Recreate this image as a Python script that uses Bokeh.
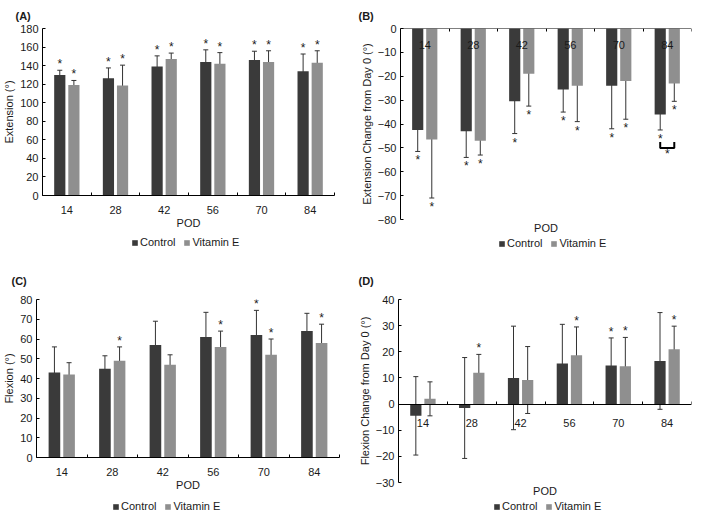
from bokeh.plotting import figure
from bokeh.models import (ColumnDataSource, Whisker, TeeHead, Range1d, FixedTicker,
                          Legend, LegendItem, Title)
from bokeh.layouts import column, row
from bokeh.embed import file_html
from bokeh.resources import INLINE
from bokeh.core.properties import value

# ---------------- data ----------------
pod = ["14", "28", "42", "56", "70", "84"]
series_names = ["Control", "Vitamin E"]

# (A) Extension
ext_ctrl = [130, 126.5, 139, 144, 146, 134]
ext_ctrl_err = [5, 11, 11.5, 13, 9.5, 18.5]
ext_vite = [119, 118.5, 147, 142, 144, 143]
ext_vite_err = [5, 22, 6.5, 12, 12, 13]
ext_sig_ctrl = [1, 1, 1, 1, 1, 1]
ext_sig_vite = [1, 1, 1, 1, 1, 1]

# (B) Extension change from day 0
extc_ctrl = [-42.5, -43, -30.5, -25.5, -24, -36]
extc_ctrl_err = [9, 11, 13.5, 9.5, 18, 6.5]
extc_vite = [-46.5, -47, -19, -24, -22, -23]
extc_vite_err = [24.5, 6, 13.5, 15, 16, 7.5]
extc_sig_ctrl = [1, 1, 1, 1, 1, 1]
extc_sig_vite = [1, 1, 1, 1, 1, 1]
bracket_index = 5
bracket_y = [-47.5, -50]

# (C) Flexion
flx_ctrl = [43, 45, 57, 61, 62, 64]
flx_ctrl_err = [13, 6.5, 12, 12.5, 12.5, 9]
flx_vite = [42, 49, 47, 56, 52, 58]
flx_vite_err = [6, 7, 5, 8, 8, 9.5]
flx_sig_ctrl = [0, 0, 0, 0, 1, 0]
flx_sig_vite = [0, 1, 0, 1, 1, 1]

# (D) Flexion change from day 0
flxc_ctrl = [-4.5, -1.5, 10, 15.5, 14.8, 16.5]
flxc_ctrl_err = [15, 19.3, 19.8, 15, 10.5, 18.5]
flxc_vite = [2, 12, 9.2, 18.7, 14.5, 21]
flxc_vite_err = [6.5, 7, 12.8, 10.8, 11, 8.8]
flxc_sig_ctrl = [0, 0, 0, 0, 1, 0]
flxc_sig_vite = [0, 1, 0, 1, 1, 1]

# ---------------- style ----------------
FONT = "Liberation Sans"
C_CTRL = "#3a3a3a"
C_VITE = "#8f8f8f"
C_ERR = "#333333"
TXT = "#1a1a1a"
BAR_W = 0.23
OFF = 0.145
NAN = float("nan")


def legend_fig(width, height, loc):
    lf = figure(width=width, height=height, output_backend="svg", toolbar_location=None,
                x_range=Range1d(0, 1), y_range=Range1d(0, 1),
                x_axis_type=None, y_axis_type=None,
                min_border_left=0, min_border_right=0, min_border_top=0, min_border_bottom=0)
    lf.outline_line_color = None
    lf.xgrid.visible = False
    lf.ygrid.visible = False
    # legend keys only (no visible marks)
    r1 = lf.vbar(x=[NAN], top=[NAN], width=0.1, fill_color=C_CTRL, line_color=None)
    r2 = lf.vbar(x=[NAN], top=[NAN], width=0.1, fill_color=C_VITE, line_color=None)
    legend = Legend(items=[LegendItem(label=series_names[0], renderers=[r1]),
                           LegendItem(label=series_names[1], renderers=[r2])],
                    orientation="horizontal", location=loc)
    legend.label_text_font = FONT
    legend.label_text_font_size = "11px"
    legend.label_text_color = TXT
    legend.glyph_width = 7
    legend.glyph_height = 7
    legend.label_standoff = 2
    legend.spacing = 8
    legend.padding = 0
    legend.margin = 0
    legend.label_height = 12
    legend.border_line_color = None
    legend.background_fill_alpha = 0
    lf.add_layout(legend)
    return lf


def panel(title, ylabel, yr, yticks, ctrl, ctrl_err, vite, vite_err, sig_c, sig_v,
          width, height, borders, title_offset, title_standoff, axis_zero=False,
          stars_below=False, bracket=None, label_standoff=9):
    l, r, t, b = borders
    n = len(pod)
    p = figure(width=width, height=height, output_backend="svg", toolbar_location=None,
               x_range=Range1d(-0.5, n - 0.5), y_range=Range1d(*yr),
               min_border_left=l, min_border_right=r, min_border_top=t, min_border_bottom=b)
    p.outline_line_color = None
    p.xgrid.visible = False
    p.ygrid.visible = False

    p.title.text = title
    p.title.text_font = FONT
    p.title.text_font_size = "11px"
    p.title.text_font_style = "bold"
    p.title.text_color = TXT
    p.title.align = "left"
    p.title.offset = title_offset
    p.title.standoff = title_standoff

    idx = list(range(n))
    xc = [i - OFF for i in idx]
    xv = [i + OFF for i in idx]

    p.vbar(x=xc, top=ctrl, bottom=0, width=BAR_W, fill_color=C_CTRL, line_color=None)
    p.vbar(x=xv, top=vite, bottom=0, width=BAR_W, fill_color=C_VITE, line_color=None)

    for xs, m, e in ((xc, ctrl, ctrl_err), (xv, vite, vite_err)):
        src = ColumnDataSource(dict(x=xs, upper=[a + d for a, d in zip(m, e)],
                                    lower=[a - d for a, d in zip(m, e)]))
        w = Whisker(source=src, base="x", upper="upper", lower="lower",
                    line_color=C_ERR, line_width=1,
                    upper_head=TeeHead(size=5, line_color=C_ERR, line_width=1),
                    lower_head=TeeHead(size=5, line_color=C_ERR, line_width=1))
        p.add_layout(w)

    # significance stars
    sx, sy = [], []
    for xs, m, e, s in ((xc, ctrl, ctrl_err, sig_c), (xv, vite, vite_err, sig_v)):
        for x0, a, d, f in zip(xs, m, e, s):
            if f:
                sx.append(x0)
                sy.append(a - d if stars_below else a + d)
    p.text(x=sx, y=sy, text=["*"] * len(sx), text_align="center",
           text_baseline="top" if stars_below else "bottom",
           y_offset=2 if stars_below else 1,
           text_font=value(FONT), text_font_size="12px", text_color=TXT)

    if bracket is not None:
        bi, (ytop, ybot) = bracket
        x0, x1 = xc[bi], xv[bi]
        p.line(x=[x0, x0, x1, x1], y=[ytop, ybot, ybot, ytop], line_color="black",
               line_width=2)
        p.text(x=[(x0 + x1) / 2], y=[ybot], text=["*"], text_align="center",
               text_baseline="top", y_offset=-1, text_font=value(FONT),
               text_font_size="12px", text_color=TXT)

    # y axis
    yax = p.yaxis[0]
    yax.ticker = FixedTicker(ticks=yticks)
    yax.axis_label = ylabel
    yax.major_tick_in = 3
    yax.major_tick_out = 0
    yax.minor_tick_line_color = None
    yax.major_label_standoff = 4
    yax.axis_label_standoff = 2
    yax.axis_label_text_font = FONT
    yax.axis_label_text_font_size = "11px"
    yax.axis_label_text_font_style = "normal"
    yax.axis_label_text_color = TXT
    yax.major_label_text_font = FONT
    yax.major_label_text_font_size = "11px"
    yax.major_label_text_color = TXT
    yax.axis_line_color = "black"

    # x axis (category labels, ticks between categories)
    xax = p.xaxis[0]
    xax.ticker = FixedTicker(ticks=idx, minor_ticks=[i - 0.5 for i in range(n + 1)])
    xax.major_label_overrides = {i: lab for i, lab in zip(idx, pod)}
    xax.major_tick_line_color = None
    xax.minor_tick_line_color = "black"
    if stars_below:
        xax.minor_tick_in = 0
        xax.minor_tick_out = 3
    else:
        xax.minor_tick_in = 3
        xax.minor_tick_out = 0
    xax.major_label_text_font = FONT
    xax.major_label_text_font_size = "11px"
    xax.major_label_text_color = TXT
    xax.axis_label_text_font = FONT
    xax.axis_label_text_font_size = "11px"
    xax.axis_label_text_font_style = "normal"
    xax.axis_label_text_color = TXT
    xax.axis_line_color = "black"
    if axis_zero:
        xax.fixed_location = 0
        xax.major_label_standoff = label_standoff
        pt = Title(text="POD", align="center", text_font=FONT, text_font_size="11px",
                   text_font_style="normal", text_color=TXT, standoff=0)
        p.add_layout(pt, "below")
    else:
        xax.axis_label = "POD"
        xax.major_label_standoff = 4
        xax.axis_label_standoff = 0
    return p


pA = panel("(A)", "Extension (°)", (0, 180), list(range(0, 181, 20)),
           ext_ctrl, ext_ctrl_err, ext_vite, ext_vite_err, ext_sig_ctrl, ext_sig_vite,
           346, 236, (36, 12, 27, 41), -27, 14)
lA = legend_fig(346, 20, (89, 8))
pB = panel("(B)", "Extension Change from Day 0 (°)", (-80, 0), list(range(-80, 1, 10)),
           extc_ctrl, extc_ctrl_err, extc_vite, extc_vite_err, extc_sig_ctrl, extc_sig_vite,
           347, 233, (54, 2, 27, 14), -42, 14, axis_zero=True, stars_below=True,
           bracket=(bracket_index, bracket_y), label_standoff=6)
lB = legend_fig(347, 23, (98, 7))
pC = panel("(C)", "Flexion (°)", (0, 80), list(range(0, 81, 10)),
           flx_ctrl, flx_ctrl_err, flx_vite, flx_vite_err, flx_sig_ctrl, flx_sig_vite,
           346, 242, (34, 7, 43, 41), -25, 25)
lC = legend_fig(346, 14, (76, 0))
pD = panel("(D)", "Flexion Change from Day 0 (°)", (-30, 40), list(range(-30, 41, 10)),
           flxc_ctrl, flxc_ctrl_err, flxc_vite, flxc_vite_err, flxc_sig_ctrl, flxc_sig_vite,
           347, 240, (52, 2, 43, 14), -40, 25, axis_zero=True, label_standoff=9)
lD = legend_fig(347, 16, (95, 0))

layout = column(row(column(pA, lA), column(pB, lB)),
                row(column(pC, lC), column(pD, lD)))
open("out.html", "w").write(file_html(layout, INLINE))
